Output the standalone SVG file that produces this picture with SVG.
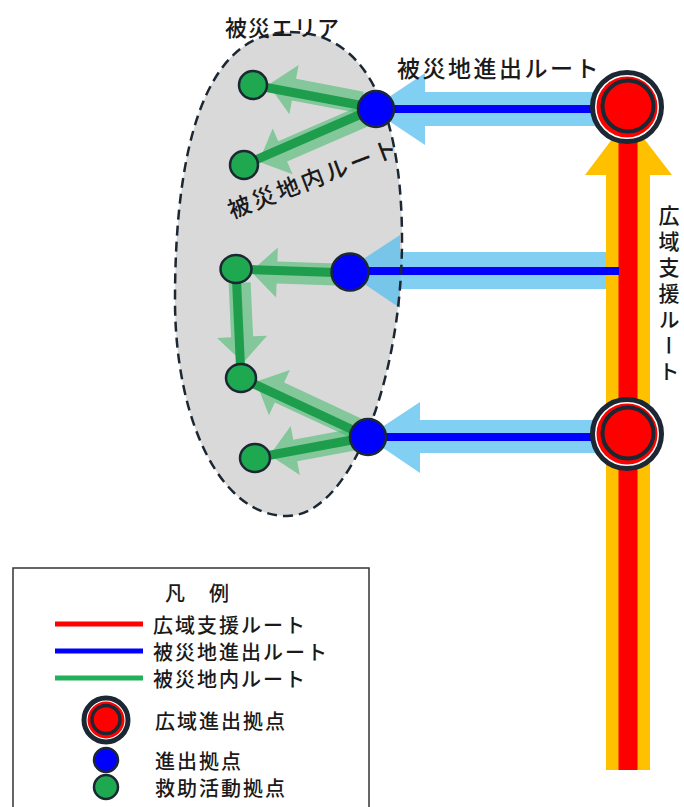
<svg xmlns="http://www.w3.org/2000/svg" width="684" height="807" viewBox="0 0 684 807">
  <style>
    text { font-family: "Noto Sans CJK JP", "Noto Sans", sans-serif; fill: #1a1a1a; font-weight: 500; }
    .leg { font-size: 20px; letter-spacing: 2px; dominant-baseline: central; }
    .lightBlue { fill: #50bdee; fill-opacity: 0.72; }
    .lightGreen { fill: #3cb868; fill-opacity: 0.55; }
    .blueLine { stroke: #0000ff; stroke-width: 8; fill: none; }
    .greenLine { stroke: #1e9e4c; stroke-width: 9; fill: none; stroke-linecap: round; }
    .blueNode { fill: #0000ff; stroke: #1b2733; stroke-width: 2.5; }
    .greenNode { fill: #1ea84f; stroke: #1b2733; stroke-width: 2.5; }
    .ring { fill: #ffffff; stroke: #1b2733; stroke-width: 5; }
    .redFill { fill: #ff0000; }
    .inner { fill: #ff0000; stroke: #1b2733; stroke-width: 4; }
  </style>

  <!-- disaster area fill -->
  <g id="disaster-area">
    <path id="area-fill" d="M 290 32 C 380 32, 402 140, 402 240 C 402 380, 350 516, 287 516 C 220 516, 175 420, 175 300 C 175 160, 200 32, 290 32 Z" fill="#d9d9d9"/>
  </g>

  <g id="connectors">
    <!-- light blue access arrows -->
    <polygon class="lightBlue" points="610,92 425,92 425,73 371,109 425,145 425,126 610,126"/>
    <polygon class="lightBlue" points="606,252 400,252 400,235 345,271 400,308 400,289 606,289"/>
    <polygon class="lightBlue" points="610,420 420,420 420,402 367,437 420,473 420,453 610,453"/>

    <!-- wide-area support route (yellow arrow + red line) -->
    <polygon fill="#ffc000" points="606,770 606,175 585,175 628,118 672,175 650,175 650,770"/>
    <line x1="628" y1="110" x2="628" y2="770" stroke="#ff0000" stroke-width="19"/>

    <!-- blue routes -->
    <line class="blueLine" x1="376" y1="109" x2="600" y2="109"/>
    <line class="blueLine" x1="350" y1="271" x2="619" y2="271"/>
    <line class="blueLine" x1="368" y1="437" x2="600" y2="437"/>
  </g>

  <path id="area-outline" d="M 290 32 C 380 32, 402 140, 402 240 C 402 380, 350 516, 287 516 C 220 516, 175 420, 175 300 C 175 160, 200 32, 290 32 Z" fill="none" stroke="#1b2733" stroke-width="2.5" stroke-dasharray="10 6"/>

  <g id="green-connectors">
    <polygon class="lightGreen" transform="translate(375,108) rotate(190.7) translate(0,3)" points="14,-11 83,-11 83,-25 109,0 83,25 83,11 14,11"/>
    <polygon class="lightGreen" transform="translate(375,108) rotate(156.5) translate(0,-3)" points="14,-11 102,-11 102,-25 128,0 102,25 102,11 14,11"/>
    <polygon class="lightGreen" transform="translate(350,273) rotate(182) translate(0,-2)" points="14,-11 73,-11 73,-25 99,0 73,25 73,11 14,11"/>
    <polygon class="lightGreen" transform="translate(236,269) rotate(87.4) translate(0,-3)" points="14,-11 68,-11 68,-25 94,0 68,25 68,11 14,11"/>
    <polygon class="lightGreen" transform="translate(368,437) rotate(204.9) translate(0,3)" points="14,-11 99,-11 99,-25 125,0 99,25 99,11 14,11"/>
    <polygon class="lightGreen" transform="translate(368,437) rotate(169.5)" points="14,-11 74,-11 74,-25 100,0 74,25 74,11 14,11"/>

    <line class="greenLine" x1="375" y1="108" x2="253" y2="85"/>
    <line class="greenLine" x1="375" y1="108" x2="244" y2="165"/>
    <line class="greenLine" x1="350" y1="273" x2="236" y2="269"/>
    <line class="greenLine" x1="236" y1="269" x2="241" y2="378"/>
    <line class="greenLine" x1="368" y1="437" x2="241" y2="378"/>
    <line class="greenLine" x1="368" y1="437" x2="255" y2="458"/>
  </g>

  <!-- nodes -->
  <g id="hub-top">
    <circle class="ring" cx="627" cy="107" r="34.5"/>
    <circle class="redFill" cx="627" cy="107" r="30.5"/>
    <circle class="inner" cx="628" cy="106" r="25.5"/>
  </g>
  <g id="hub-bottom">
    <circle class="ring" cx="627" cy="434" r="34.5"/>
    <circle class="redFill" cx="627" cy="434" r="30.5"/>
    <circle class="inner" cx="628" cy="433" r="25.5"/>
  </g>
  <g id="base-top"><circle class="blueNode" cx="376" cy="109" r="18"/></g>
  <g id="base-middle"><circle class="blueNode" cx="350" cy="272" r="18.5"/></g>
  <g id="base-bottom"><circle class="blueNode" cx="368" cy="437" r="18"/></g>
  <g id="rescue-1"><circle class="greenNode" cx="253" cy="85" r="14"/></g>
  <g id="rescue-2"><circle class="greenNode" cx="244" cy="165" r="14"/></g>
  <g id="rescue-3"><ellipse class="greenNode" cx="236" cy="269" rx="15.5" ry="14"/></g>
  <g id="rescue-4"><ellipse class="greenNode" cx="241" cy="378" rx="15" ry="14"/></g>
  <g id="rescue-5"><ellipse class="greenNode" cx="255" cy="458" rx="15" ry="14"/></g>

  <!-- labels -->
  <g id="labels">
    <text x="225" y="26" font-size="22" letter-spacing="1" dominant-baseline="central">被災エリア</text>
    <text x="397" y="67" font-size="23" letter-spacing="2.5" dominant-baseline="central">被災地進出ルート</text>
    <text x="313" y="177" font-size="23" letter-spacing="3" text-anchor="middle" dominant-baseline="central" transform="rotate(-21 313 177)">被災地内ルート</text>
    <text x="669" y="205" font-size="21" letter-spacing="5" style="writing-mode: vertical-rl;">広域支援ルート</text>
  </g>

  <!-- legend -->
  <g id="legend">
    <rect x="13" y="568" width="356" height="250" fill="#ffffff" stroke="#333333" stroke-width="1.5"/>
    <text class="leg" x="165" y="592" letter-spacing="10">凡　例</text>
    <line x1="55" y1="624" x2="143" y2="624" stroke="#ff0000" stroke-width="5"/>
    <text class="leg" x="153" y="624">広域支援ルート</text>
    <line x1="55" y1="651" x2="143" y2="651" stroke="#0000ff" stroke-width="5"/>
    <text class="leg" x="153" y="651">被災地進出ルート</text>
    <line x1="55" y1="678" x2="143" y2="678" stroke="#22b05c" stroke-width="5"/>
    <text class="leg" x="153" y="678">被災地内ルート</text>
    <g id="legend-hub">
      <circle cx="106" cy="720" r="22" fill="#ffffff" stroke="#1b2733" stroke-width="5"/>
      <circle cx="106" cy="720" r="18.5" fill="#ff0000"/>
      <circle cx="106" cy="719.5" r="14" fill="#ff0000" stroke="#1b2733" stroke-width="3.5"/>
    </g>
    <text class="leg" x="155" y="720">広域進出拠点</text>
    <circle cx="106" cy="760" r="12" class="blueNode"/>
    <text class="leg" x="155" y="760">進出拠点</text>
    <circle cx="106" cy="787" r="12" class="greenNode"/>
    <text class="leg" x="155" y="787">救助活動拠点</text>
  </g>
</svg>
